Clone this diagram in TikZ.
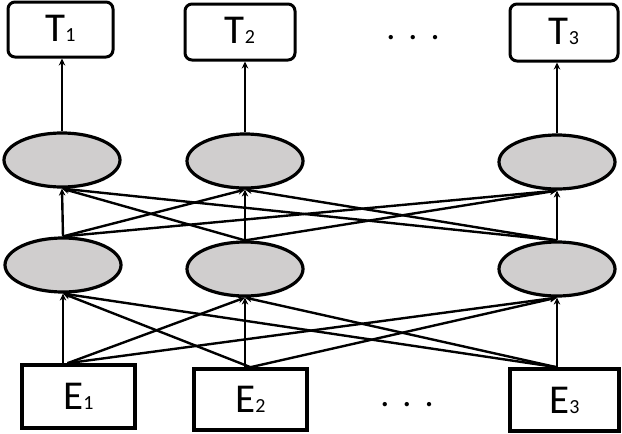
\documentclass[tikz,border=0pt]{standalone}
\usepackage{fontspec}
\setmainfont{Carlito}
\usetikzlibrary{shapes.geometric,arrows.meta}
\definecolor{cellgray}{RGB}{208,206,206}
\newcommand{\subnum}[1]{{\fontsize{20}{20}\selectfont #1}}
\begin{document}
\begin{tikzpicture}[x=1pt,y=-1pt,
  cell/.style={ellipse,draw,line width=3.2pt,fill=cellgray,minimum width=116pt,minimum height=54pt,inner sep=0pt},
  tbox/.style={rectangle,rounded corners=7pt,draw,line width=3pt,inner sep=0pt,font=\fontsize{41}{41}\selectfont},
  ebox/.style={rectangle,draw,line width=3.6pt,inner sep=0pt,font=\fontsize{41}{41}\selectfont},
  conn/.style={line width=2.4pt,-{Stealth[length=7pt,width=6.5pt]}},
  dotlbl/.style={font=\fontsize{36}{36}\selectfont,inner sep=0pt}]
\useasboundingbox (0,0) rectangle (622,434);
% T boxes
\node[tbox,minimum width=105pt,minimum height=55pt] (t1) at (60.5,29.5) {\raisebox{3pt}{T\subnum{1}}};
\node[tbox,minimum width=110pt,minimum height=56pt] (t2) at (240,32) {\raisebox{3pt}{T\subnum{2}}};
\node[tbox,minimum width=108pt,minimum height=57pt] (t3) at (564,32.5) {\raisebox{3pt}{T\subnum{3}}};
\node[dotlbl] (dtop) at (413,38) {.\hspace{13pt}.\hspace{13pt}.};
% upper ellipses
\node[cell] (u1) at (62,160) {};
\node[cell] (u2) at (245,161) {};
\node[cell] (u3) at (557,162) {};
% middle ellipses
\node[cell] (m1) at (63,265) {};
\node[cell] (m2) at (245,269) {};
\node[cell] (m3) at (557,269) {};
% E boxes
\node[ebox,minimum width=113pt,minimum height=63pt] (e1) at (78.5,396.5) {E\subnum{1}};
\node[ebox,minimum width=113pt,minimum height=61pt] (e2) at (250.5,399.5) {E\subnum{2}};
\node[ebox,minimum width=109pt,minimum height=62pt] (e3) at (564.5,400) {E\subnum{3}};
\node[dotlbl] (dbot) at (407,405) {.\hspace{13pt}.\hspace{13pt}.};
% origins of diagonal connectors
\coordinate (e1o) at ([xshift=-11pt]e1.north);
\coordinate (e2o) at (e2.north);
\coordinate (e3o) at ([xshift=-8pt]e3.north);
% upper to T
\draw[conn] (u1.north) -- (u1.north |- t1.south);
\draw[conn] (u2.north) -- (u2.north |- t2.south);
\draw[conn] (u3.north) -- (u3.north |- t3.south);
% middle to upper
\foreach \i in {1,2,3}{
  \foreach \j in {1,2,3}{
    \draw[conn] (m\i.north) -- (u\j.south);
  }
}
% E to middle
\draw[conn] (m1.south |- e1.north) -- (m1.south);
\draw[conn] (m2.south |- e2.north) -- (m2.south);
\draw[conn] (m3.south |- e3.north) -- (m3.south);
\draw[conn] (e1o) -- (m2.south);
\draw[conn] (e1o) -- (m3.south);
\draw[conn] (e2o) -- (m1.south);
\draw[conn] (e2o) -- (m3.south);
\draw[conn] (e3o) -- (m1.south);
\draw[conn] (e3o) -- (m2.south);
\end{tikzpicture}
\end{document}
